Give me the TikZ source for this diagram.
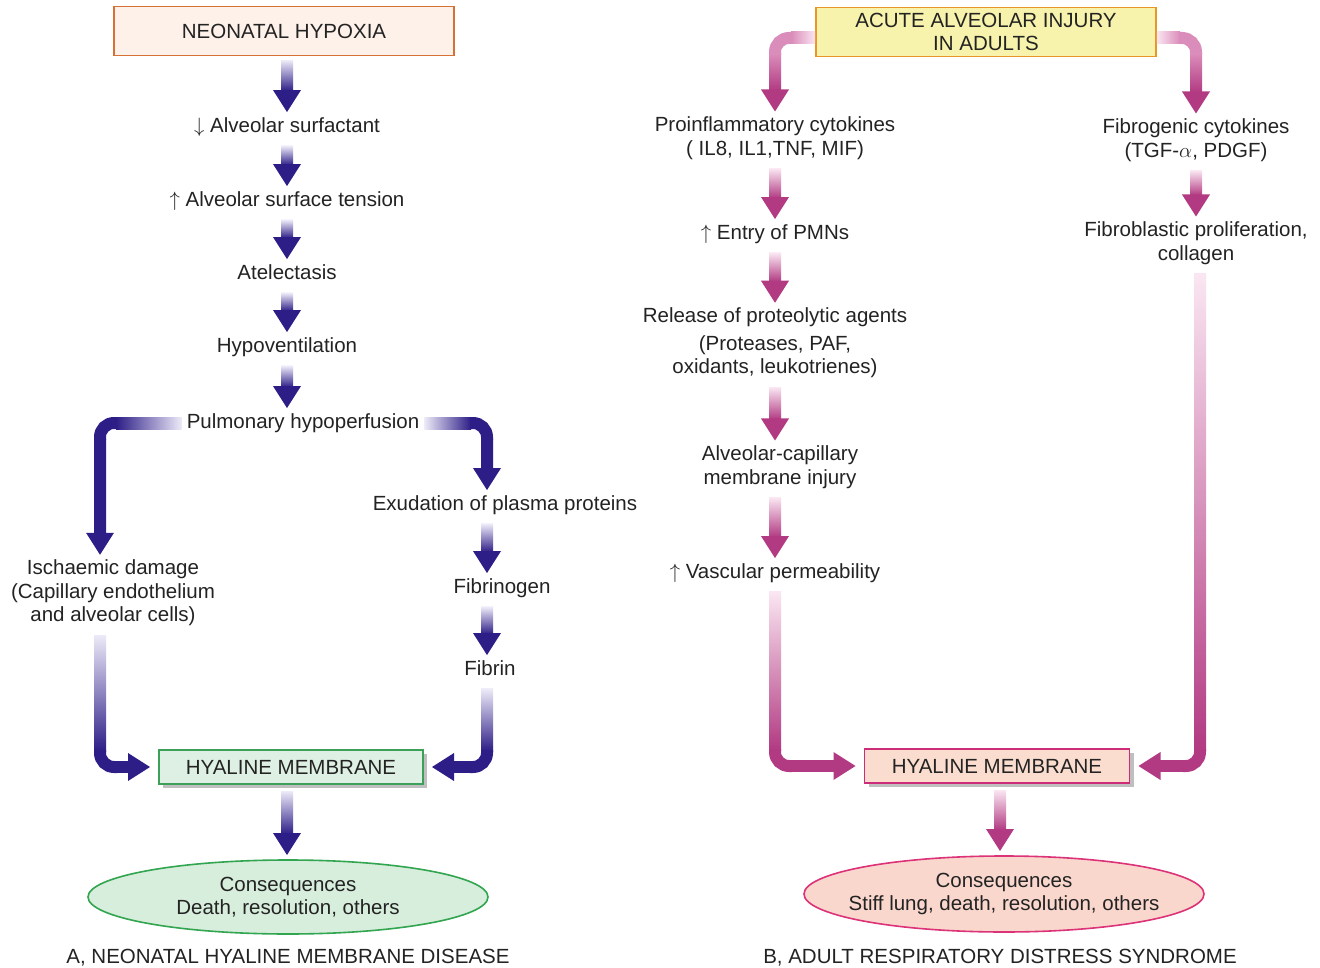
\documentclass[tikz,border=0pt]{standalone}
\usepackage{fontspec}
\setmainfont{Liberation Sans}
\usetikzlibrary{shapes.geometric,shadows,calc}
\definecolor{navyD}{RGB}{45,30,135}
\definecolor{navyL}{RGB}{236,234,248}
\definecolor{pinkD}{RGB}{178,58,130}
\definecolor{pinkM}{RGB}{218,140,186}
\definecolor{pinkL}{RGB}{250,230,242}
\definecolor{txtc}{RGB}{35,35,35}
\definecolor{hypF}{RGB}{253,241,233}
\definecolor{hypD}{RGB}{214,112,52}
\definecolor{acF}{RGB}{248,243,172}
\definecolor{acD}{RGB}{232,150,40}
\definecolor{hmAF}{RGB}{222,240,227}
\definecolor{hmAD}{RGB}{60,160,90}
\definecolor{hmBF}{RGB}{251,221,207}
\definecolor{hmBD}{RGB}{205,45,120}
\definecolor{cAF}{RGB}{216,238,220}
\definecolor{cAD}{RGB}{50,165,80}
\definecolor{cBF}{RGB}{250,215,205}
\definecolor{cBD}{RGB}{220,50,120}
% straight downward arrow: #1 start (x taken from it), #2 tip, #3 light, #4 dark
\newcommand\vArrow[4]{%
 \shade[top color=#3,bottom color=#4] let \p1=(#1),\p2=(#2) in ({\x1-6pt},{\y1-4pt}) rectangle ({\x1+6pt},{\y2+21pt});
 \fill[#4] let \p1=(#1),\p2=(#2) in ({\x1-14pt},{\y2+22pt}) -- ({\x1+14pt},{\y2+22pt}) -- (\x1,\y2) -- cycle;}
% horizontal then down: #1 start, #2 tip, #3 left colour, #4 right colour, #5 corner colour, #6 tip colour, #7 direction
\newcommand\horDown[7]{%
 \shade[left color=#3,right color=#4] let \p1=(#1),\p2=(#2) in (\x1,{\y1-6pt}) rectangle ({\x2-(#7)*16pt},{\y1+6pt});
 \draw[line width=12pt,#5,rounded corners=14pt] let \p1=(#1),\p2=(#2) in ({\x2-(#7)*17pt},\y1) -- (\x2,\y1) -- (\x2,{\y1-17pt});
 \shade[top color=#5,bottom color=#6] let \p1=(#1),\p2=(#2) in ({\x2-6pt},{\y1-16pt}) rectangle ({\x2+6pt},{\y2+21pt});
 \fill[#6] let \p2=(#2) in ({\x2-14pt},{\y2+22pt}) -- ({\x2+14pt},{\y2+22pt}) -- (\x2,\y2) -- cycle;}
% down then horizontal: #1 start, #2 tip, #3 light, #4 dark, #5 direction
\newcommand\downHor[5]{%
 \shade[top color=#3,bottom color=#4] let \p1=(#1),\p2=(#2) in ({\x1-6pt},{\y1-4pt}) rectangle ({\x1+6pt},{\y2+16pt});
 \draw[line width=12pt,#4,rounded corners=14pt] let \p1=(#1),\p2=(#2) in (\x1,{\y2+17pt}) -- (\x1,\y2) -- ({\x1+(#5)*17pt},\y2);
 \fill[#4] let \p1=(#1),\p2=(#2) in ({\x1+(#5)*16pt},{\y2-6pt}) rectangle ({\x2-(#5)*21pt},{\y2+6pt});
 \fill[#4] let \p1=(#1),\p2=(#2) in ({\x2-(#5)*22pt},{\y2+14pt}) -- ({\x2-(#5)*22pt},{\y2-14pt}) -- (\x2,\y2) -- cycle;}
\tikzset{
 base/.style={font=\fontsize{20.5pt}{23.5pt}\selectfont, text=txtc},
 txt/.style={base, inner sep=5pt, align=center, yshift=-3pt},
 one/.style={txt, text height=15pt, text depth=4.5pt},
 box/.style={base, draw, line width=1.6pt, inner sep=0pt, align=center},
 hmbox/.style={box, minimum height=34pt, outer xsep=9pt, outer ysep=3pt,
   general shadow={fill=black!25, shadow xshift=4pt, shadow yshift=-4pt}},
 ell/.style={base, shape=ellipse, draw, line width=1.6pt, inner ysep=0pt, inner xsep=-60pt,
   align=center, minimum width=400pt, outer sep=5pt},
}
\begin{document}
\begin{tikzpicture}[x=1pt,y=-1pt]
\fill[white] (0,0) rectangle (1320,968);
\useasboundingbox (0,0) rectangle (1320,968);
\coordinate (colA) at (287,0);
\coordinate (colAL) at (100,0);
\coordinate (colAR) at (487,0);
\coordinate (colBL) at (775,0);
\coordinate (colBR) at (1200,0);
\coordinate (colBC) at (1000,0);
% ---------- panel A ----------
\node[box, fill=hypF, draw=hypD, minimum width=340pt, minimum height=49pt] (hyp) at (284,31) {NEONATAL HYPOXIA};
\node[one] (surf) at (287,124) {$\downarrow$ Alveolar surfactant};
\node[one] (tens) at (287,198) {$\uparrow$ Alveolar surface tension};
\node[one] (atel) at (287,271) {Atelectasis};
\node[one] (hypov) at (287,344) {Hypoventilation};
\node[one] (pulm) at (303,420) {Pulmonary hypoperfusion};
\node[one] (exud) at (505,502) {Exudation of plasma proteins};
\node[one] (fibg) at (502,585) {Fibrinogen};
\node[one] (fibn) at (490,667) {Fibrin};
\node[txt] (isch) at (113,590) {Ischaemic damage\\(Capillary endothelium\\and alveolar cells)};
\node[hmbox, fill=hmAF, draw=hmAD, minimum width=264pt] (hmA) at (291,767) {HYALINE MEMBRANE};
\node[ell, fill=cAF, draw=cAD, minimum height=74pt] (consA) at (288,897) {Consequences\\Death, resolution, others};
\node[base] (capA) at (288,958) {A, NEONATAL HYALINE MEMBRANE DISEASE};
\vArrow{hyp.south -| colA}{surf.north}{navyL}{navyD}
\vArrow{surf.south -| colA}{tens.north}{navyL}{navyD}
\vArrow{tens.south -| colA}{atel.north}{navyL}{navyD}
\vArrow{atel.south -| colA}{hypov.north}{navyL}{navyD}
\vArrow{hypov.south -| colA}{pulm.north}{navyL}{navyD}
\horDown{pulm.west}{isch.north -| colAL}{navyD}{navyL}{navyD}{navyD}{-1}
\horDown{pulm.east}{exud.north -| colAR}{navyL}{navyD}{navyD}{navyD}{1}
\vArrow{exud.south -| colAR}{fibg.north}{navyL}{navyD}
\vArrow{fibg.south -| colAR}{fibn.north}{navyL}{navyD}
\downHor{isch.south -| colAL}{hmA.west}{navyL}{navyD}{1}
\downHor{fibn.south -| colAR}{hmA.east}{navyL}{navyD}{-1}
\vArrow{hmA.south -| colA}{consA.north}{navyL}{navyD}
% ---------- panel B ----------
\node[box, fill=acF, draw=acD, minimum width=340pt, minimum height=49pt] (acute) at (986,32) {ACUTE ALVEOLAR INJURY\\IN ADULTS};
\node[txt] (procyt) at (775,135) {Proinflammatory cytokines\\( IL8, IL1,TNF, MIF)};
\node[one] (pmn) at (775,231) {$\uparrow$ Entry of PMNs};
\node[txt] (rel) at (775,340) {Release of proteolytic agents\\[4pt](Proteases, PAF,\\oxidants, leukotrienes)};
\node[txt] (acinj) at (780,464) {Alveolar-capillary\\membrane injury};
\node[one] (vasc) at (775,570) {$\uparrow$ Vascular permeability};
\node[txt] (fibcyt) at (1196,137) {Fibrogenic cytokines\\(TGF-$\alpha$, PDGF)};
\node[txt] (fibpro) at (1196,240) {Fibroblastic proliferation,\\collagen};
\node[hmbox, fill=hmBF, draw=hmBD, minimum width=265pt] (hmB) at (997,766) {HYALINE MEMBRANE};
\node[ell, fill=cBF, draw=cBD, minimum height=76pt] (consB) at (1004,894) {Consequences\\Stiff lung, death, resolution, others};
\node[base] (capB) at (1000,958) {B, ADULT RESPIRATORY DISTRESS SYNDROME};
\horDown{$(acute.west)+(0,6)$}{procyt.north -| colBL}{pinkM}{pinkL}{pinkM}{pinkD}{-1}
\horDown{$(acute.east)+(0,6)$}{fibcyt.north}{pinkL}{pinkM}{pinkM}{pinkD}{1}
\vArrow{procyt.south -| colBL}{pmn.north}{pinkL}{pinkD}
\vArrow{pmn.south -| colBL}{rel.north}{pinkL}{pinkD}
\vArrow{rel.south -| colBL}{acinj.north}{pinkL}{pinkD}
\vArrow{acinj.south -| colBL}{vasc.north}{pinkL}{pinkD}
\downHor{vasc.south -| colBL}{hmB.west}{pinkL}{pinkD}{1}
\vArrow{fibcyt.south}{fibpro.north}{pinkL}{pinkD}
\downHor{fibpro.south -| colBR}{hmB.east}{pinkL}{pinkD}{-1}
\vArrow{hmB.south -| colBC}{consB.north}{pinkL}{pinkD}
\end{tikzpicture}
\end{document}
